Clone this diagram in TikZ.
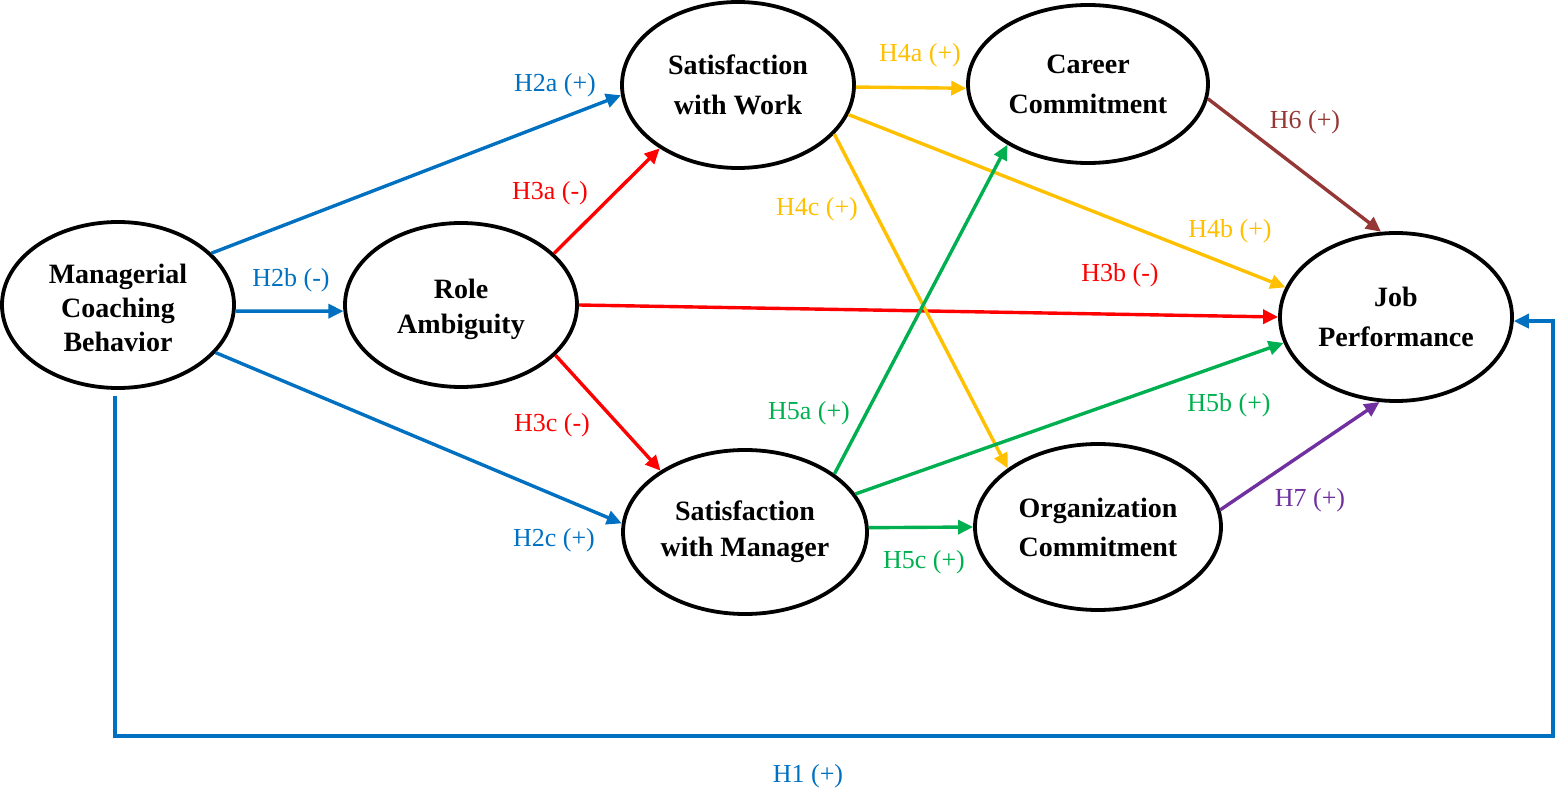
\documentclass[tikz,border=0pt]{standalone}
\usepackage{fontspec}
\setmainfont{Liberation Serif}
\usetikzlibrary{shapes.geometric,arrows.meta}
\definecolor{hblue}{HTML}{0070C0}
\definecolor{hred}{HTML}{FF0000}
\definecolor{hgold}{HTML}{FFC000}
\definecolor{hgreen}{HTML}{00B050}
\definecolor{hbrown}{HTML}{953735}
\definecolor{hpurple}{HTML}{7030A0}
\begin{document}
\begin{tikzpicture}[x=1pt,y=-1pt,
  construct/.style={ellipse, draw, line width=3.8pt, inner sep=0pt, align=center},
  link/.style={line width=3.4pt, -{Triangle[length=15pt,width=14pt]}},
  hyp/.style={font=\fontsize{26}{30}\selectfont, inner sep=0pt}]
\useasboundingbox (0,0) rectangle (1556,791);

% constructs (a short empty first line nudges some texts down a little)
\node[construct, minimum width=232pt, minimum height=166pt,
      font=\fontsize{28}{34}\selectfont\bfseries] (mcb) at (118,305) {\\[-8pt]Managerial\\Coaching\\Behavior};
\node[construct, minimum width=232pt, minimum height=164pt,
      font=\fontsize{28}{35}\selectfont\bfseries] (ra) at (461,305) {\\[-6pt]Role\\Ambiguity};
\node[construct, minimum width=232pt, minimum height=166pt,
      font=\fontsize{28}{40}\selectfont\bfseries] (sw) at (738,85) {Satisfaction\\with Work};
\node[construct, minimum width=240pt, minimum height=158pt,
      font=\fontsize{28}{40}\selectfont\bfseries] (cc) at (1088,84) {Career\\Commitment};
\node[construct, minimum width=232pt, minimum height=168pt,
      font=\fontsize{28}{40}\selectfont\bfseries] (jp) at (1396,317) {Job\\Performance};
\node[construct, minimum width=244pt, minimum height=164pt,
      font=\fontsize{28}{36}\selectfont\bfseries] (sm) at (745,532) {Satisfaction\\with Manager};
\node[construct, minimum width=246pt, minimum height=166pt,
      font=\fontsize{28}{39}\selectfont\bfseries] (oc) at (1098,527) {Organization\\Commitment};

% paths from managerial coaching
\draw[link, hblue] (mcb.29.5) -- (sw.185);
\draw[link, hblue] (mcb.-3) -- (ra.183);
\draw[link, hblue] (mcb.-26.3) -- (sm.176.7);

% paths from role ambiguity
\draw[link, hred] (ra.29.5) -- (sw.219);
\draw[link, hred] (ra.0) -- (jp.180);
\draw[link, hred] (ra.-28) -- (sm.144);

% paths from satisfaction with work
\draw[link, hgold] (sw.-1.5) -- (cc.182);
\draw[link, hgold] (sw.-15) -- (jp.165.6);
\draw[link, hgold] (sw.-27) -- (oc.147);

% paths from satisfaction with manager
\draw[link, hgreen] (sm.33) -- (cc.217);
\draw[link, hgreen] (sm.19.5) -- (jp.193);
\draw[link, hgreen] (sm.2.4) -- (oc.180);

% commitment to performance
\draw[link, hbrown] (cc.-7) -- (jp.100);
\draw[link, hpurple] (oc.8) -- (jp.259);

% direct effect, routed below the model
\coordinate (h1l) at (115,736);
\coordinate (h1r) at (1553,736);
\draw[link, hblue] ([shift={(-3,6)}]mcb.south) -- (h1l) -- (h1r) |- (jp.-2);

% hypothesis labels
\node[hyp, text=hblue] (l2a) at (555,85) {H2a (+)};
\node[hyp, text=hblue] (l2b) at (291,280) {H2b (-)};
\node[hyp, text=hblue] (l2c) at (554,540) {H2c (+)};
\node[hyp, text=hred] (l3a) at (550,193) {H3a (-)};
\node[hyp, text=hred] (l3b) at (1120,275) {H3b (-)};
\node[hyp, text=hred] (l3c) at (552,425) {H3c (-)};
\node[hyp, text=hgold] (l4a) at (920,55) {H4a (+)};
\node[hyp, text=hgold] (l4b) at (1230,231) {H4b (+)};
\node[hyp, text=hgold] (l4c) at (817,209) {H4c (+)};
\node[hyp, text=hgreen] (l5a) at (809,413) {H5a (+)};
\node[hyp, text=hgreen] (l5b) at (1229,405) {H5b (+)};
\node[hyp, text=hgreen] (l5c) at (924,562) {H5c (+)};
\node[hyp, text=hbrown] (l6) at (1305,122) {H6 (+)};
\node[hyp, text=hpurple] (l7) at (1310,500) {H7 (+)};
\node[hyp, text=hblue] (l1) at (808,776) {H1 (+)};
\end{tikzpicture}
\end{document}
